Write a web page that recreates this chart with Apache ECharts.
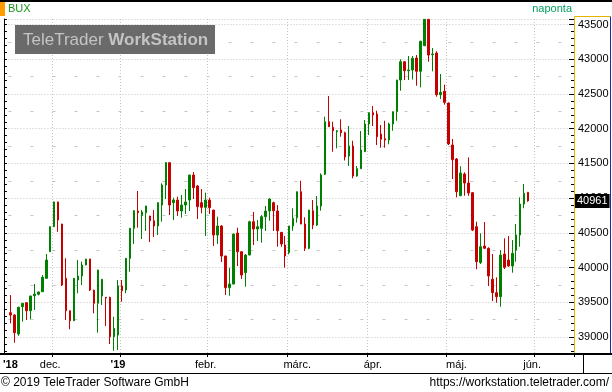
<!DOCTYPE html>
<html><head><meta charset="utf-8">
<script src="https://cdn.jsdelivr.net/npm/echarts@6/dist/echarts.min.js"></script>
<style>html,body{margin:0;padding:0;background:#fff}#c{width:612px;height:392px}</style>
</head><body><div id="c"></div>
<script>
// BUX daily candles
const openV = [39351,39317,39044,39437,39495,39379,39595,39616,39653,39846,
40229,40589,40945,40628,39846,39379,39235,39821,39879,40037,
40124,39677,39486,39591,39572,39572,39005,39029,39735,39677,
40134,40566,40815,40753,40791,40743,40675,40599,40901,41189,
41511,40935,40973,40815,40901,40973,41333,41175,40935,40868,
40973,40829,40469,40599,40167,39711,39764,40498,40229,39927,
40181,40661,40556,40566,40733,40815,40935,40815,40508,40325,
40215,40599,40719,41093,40628,40278,40819,40613,40887,41344,
42101,42020,41957,41981,41943,41607,41751,41319,41424,41669,
42068,42231,42212,41924,41856,41837,42068,42245,42701,42965,
42835,42845,43018,42827,43195,43575,43066,43090,42490,42539,
42370,41765,41564,41035,41348,41218,41079,40589,40073,40311,
40278,39832,39639,39581,40196,40109,40023,40253,40469,40916,
41084];
const highV = [39605,39330,39437,39490,39500,39595,39764,39655,39893,40196,
40595,40950,40950,40630,40134,39380,39850,40109,40085,40125,
40125,39680,39970,39835,39575,39581,39293,39821,39821,40135,
40570,40829,41103,40829,40890,40745,40829,40940,41214,41521,
41521,41007,41021,41045,41132,41335,41377,41189,41132,41079,
41007,40830,40733,40613,40170,39999,40490,40575,40230,40196,
40675,40801,40685,40757,40887,40998,40949,40901,40510,40455,
40600,40854,41095,41251,40724,40830,40973,41031,41358,42173,
42471,42101,41981,42136,41957,42039,41827,41463,41967,42125,
42235,42327,42259,42053,42115,42087,42250,42705,43000,42970,
43047,43047,43061,43267,43580,43580,43162,43115,42788,42634,
42380,41852,41578,41459,41372,41588,41085,40661,40494,40657,
40292,40196,39860,40253,40422,40455,40397,40628,41012,41204,
41090];
const lowV = [39198,38919,39019,39221,39245,39256,39389,39600,39650,39840,
40225,40585,40517,39735,39245,39112,39230,39630,39749,40035,
39663,39342,39063,39461,39159,38900,38803,38813,39509,39630,
39941,40340,40575,40412,40527,40369,40441,40469,40661,40988,
40757,40685,40743,40719,40772,40815,40988,40700,40782,40455,
40772,40311,40340,40081,39605,39595,39760,40023,39836,39725,
40180,40325,40383,40359,40527,40675,40527,40301,40301,39999,
40192,40531,40647,40625,40239,40264,40552,40599,40819,41333,
42025,41669,41718,41885,41542,41463,41286,41309,41420,41665,
41909,42039,41765,41727,41727,41776,41971,42115,42547,42701,
42701,42709,42619,42596,43190,42965,42827,42461,42428,42346,
41765,41276,41012,41030,41035,41035,40527,39976,40052,40268,
39735,39519,39495,39437,39980,40013,39927,40085,40301,40854,
40949];
const closeV = [39317,39063,39428,39486,39379,39591,39620,39649,39860,40109,
40589,40945,40685,39749,39379,39235,39846,39879,40037,40124,
39677,39486,39965,39832,39562,39005,39126,39735,39667,40134,
40566,40819,40791,40801,40887,40675,40599,40935,41189,41511,
40901,40973,40815,40901,40945,41333,41151,40877,40868,40973,
40863,40469,40599,40167,39711,39764,40484,40229,39893,40181,
40661,40556,40589,40733,40815,40988,40819,40531,40340,40167,
40599,40710,41093,40628,40278,40829,40613,40887,41333,42101,
42029,41971,41971,41943,41593,41751,41319,41424,41693,42068,
42231,42197,41885,41848,41837,42068,42245,42701,42965,42835,
42845,43014,42827,43259,43575,43061,43076,42490,42524,42380,
41780,41554,41093,41362,41218,41074,40541,40085,40301,40278,
39879,39639,39581,40181,40004,40023,40206,40469,40916,41070,
40961];

// x-axis month labels (category index of label) and month boundaries
const monthLabels = ["'18", "dec.", "'19", "febr.", "márc.", "ápr.", "máj.", "jún."];
const monthLabelIdx = [0, 10, 27, 49, 72, 91, 112, 131];
const monthLineIdx = [11, 28, 50, 70, 90, 110, 132];
const yMin = 38756, yMax = 43580, yStep = 500, yMinorStep = 100;

const FONT = '"Liberation Sans", Arial, sans-serif';
const nCats = 142;
const cats = Array.from({length: nCats}, (_, i) => 'd' + i);
const candles = openV.map((o, i) => [o, closeV[i], lowV[i], highV[i]]);
const labelAt = {};
monthLabelIdx.forEach((k, j) => { labelAt[k] = monthLabels[j]; });
const lineSet = new Set(monthLineIdx);
const lastClose = closeV[closeV.length - 1];
const GRID = '#c4c4c4';

const chart = echarts.init(document.getElementById('c'), null, {renderer: 'canvas'});
chart.setOption({
  animation: false,
  backgroundColor: '#fff',
  grid: {left: 6.3, right: 38, top: 19, bottom: 38},
  xAxis: {
    type: 'category', data: cats, boundaryGap: true,
    axisLine: {show: true, lineStyle: {color: '#000', width: 2}},
    axisTick: {show: true, interval: (i) => lineSet.has(i), length: 3, lineStyle: {color: '#000'}},
    axisLabel: {
      interval: (i) => (i in labelAt),
      formatter: (v, i) => { const s = labelAt[i] || ''; return s.charAt(0) === "'" ? '{b|' + s + '}' : s; },
      color: '#000', fontSize: 11, fontFamily: FONT, margin: 5,
      rich: {b: {fontWeight: 'bold', fontSize: 11, fontFamily: FONT, color: '#000'}}
    },
    splitLine: {show: true, interval: (i) => lineSet.has(i), lineStyle: {color: GRID, type: [1, 2], width: 1}}
  },
  yAxis: [
    {
      type: 'value', position: 'right', min: yMin, max: yMax, minInterval: yStep, maxInterval: yStep,
      axisLine: {show: true, lineStyle: {color: '#e2b400'}},
      axisTick: {show: true, inside: true, length: 5, lineStyle: {color: '#000'}},
      minorTick: {show: true, splitNumber: 5, length: 3, lineStyle: {color: '#000'}},
      axisLabel: {showMinLabel: false, showMaxLabel: false, color: '#000', fontSize: 11, fontFamily: FONT, margin: 4,
        formatter: (v) => String(Math.round(v))},
      splitLine: {show: true, lineStyle: {color: GRID, type: [1, 2], width: 1}}
    },
    {
      type: 'value', position: 'right', min: yMin - yStep / 2, max: yMax - yStep / 2,
      minInterval: yStep, maxInterval: yStep,
      axisLine: {show: false}, axisTick: {show: false}, axisLabel: {show: false},
      splitLine: {show: true, showMinLine: false, showMaxLine: false, lineStyle: {color: GRID, type: [3, 19], width: 1}}
    },
    {
      type: 'value', position: 'left', offset: 4.5, min: yMin, max: yMax,
      minInterval: yMinorStep, maxInterval: yMinorStep,
      axisLine: {show: true, lineStyle: {color: '#000'}},
      axisTick: {show: true, inside: true, length: 3, lineStyle: {color: '#000'}},
      axisLabel: {show: false}, splitLine: {show: false}
    }
  ],
  series: [{
    type: 'candlestick', xAxisIndex: 0, yAxisIndex: 0, data: candles, barWidth: 2,
    itemStyle: {color: '#008000', color0: '#c40000', borderColor: '#008000', borderColor0: '#c40000', borderWidth: 1},
    markLine: {
      silent: true, symbol: 'none', animation: false,
      data: [{yAxis: lastClose}],
      lineStyle: {color: 'rgba(0,0,0,0)', width: 1},
      label: {position: 'end', distance: 1, formatter: String(lastClose), color: '#fff',
        backgroundColor: '#000', padding: [2, 2, 1, 2], fontSize: 11, fontFamily: FONT}
    }
  }],
  graphic: [
    {type: 'rect', z: 20, shape: {x: 0, y: 0, width: 612, height: 2}, style: {fill: '#000'}},
    {type: 'rect', z: 20, shape: {x: 0, y: 2, width: 5, height: 14}, style: {fill: '#ff9c00'}},
    {type: 'text', z: 20, x: 8, y: 9, style: {text: 'BUX', fill: '#1a941a', font: '11px ' + FONT, verticalAlign: 'middle'}},
    {type: 'text', z: 20, x: 572, y: 9, style: {text: 'naponta', fill: '#00a060', font: '11px ' + FONT, align: 'right', verticalAlign: 'middle'}},
    {type: 'rect', z: 20, shape: {x: 15, y: 25, width: 200, height: 29}, style: {fill: '#6a6a6a'}},
    {type: 'text', z: 21, x: 23, y: 40, style: {
      text: '{a|TeleTrader }{b|WorkStation}', verticalAlign: 'middle',
      rich: {a: {fill: '#c4c4c4', font: '17px ' + FONT}, b: {fill: '#c4c4c4', font: 'bold 17px ' + FONT}}
    }},
    {type: 'polyline', z: 20, shape: {points: [[574.5, 354], [574.5, 16.5], [610.5, 16.5]]}, style: {stroke: '#e2b400', fill: null, lineWidth: 1}},
    {type: 'line', z: 20, shape: {x1: 610.5, y1: 16.5, x2: 610.5, y2: 354}, style: {stroke: '#1a2a9a', lineWidth: 1}},
    {type: 'line', z: 20, shape: {x1: 0, y1: 354, x2: 612, y2: 354}, style: {stroke: '#000', lineWidth: 2}},
    {type: 'line', z: 20, shape: {x1: 583.5, y1: 354, x2: 583.5, y2: 373}, style: {stroke: '#000', lineWidth: 1}},
    {type: 'line', z: 20, shape: {x1: 0, y1: 373.5, x2: 612, y2: 373.5}, style: {stroke: '#000', lineWidth: 1}},
    {type: 'text', z: 20, x: 1, y: 383, style: {text: '© 2019 TeleTrader Software GmbH', fill: '#000', font: '12px ' + FONT, verticalAlign: 'middle'}},
    {type: 'text', z: 20, x: 609, y: 383, style: {text: 'https://workstation.teletrader.com/', fill: '#000', font: '12px ' + FONT, align: 'right', verticalAlign: 'middle'}}
  ]
});
</script>
</body></html>
